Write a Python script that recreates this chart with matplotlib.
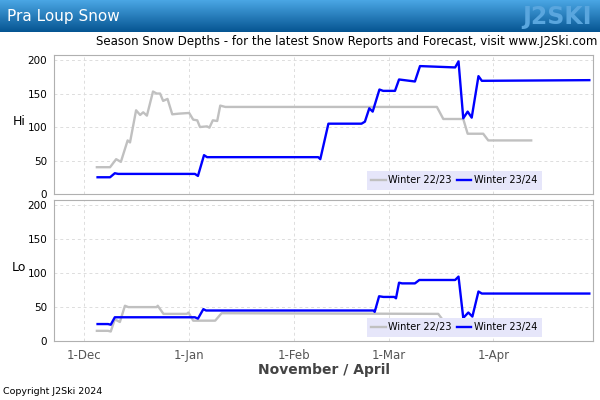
import matplotlib
matplotlib.use("Agg")
import matplotlib.pyplot as plt
import numpy as np

# day offsets counted from 1-Nov (non-leap calendar)
tick_days = [30, 61, 92, 120, 151]
tick_labels = ['1-Dec', '1-Jan', '1-Feb', '1-Mar', '1-Apr']

# Winter 22/23, top station
hi_2223_days = [33.7, 37.6, 39.4, 40.8, 42.8, 43.5, 45.3, 46.5, 47.4, 48.5, 50.3, 51.4, 52.4, 53.3,
                54.6, 56, 58, 61, 62.2, 63.4, 64.2, 66.3, 67, 68, 69.3, 70.2, 71.7, 134.3, 136.2,
                142.1, 143.4, 148, 149.5, 162.2]
hi_2223_vals = [40, 40, 52, 48, 80, 77, 125, 118, 122, 117, 153, 150, 150, 139,
                142, 119, 120, 121, 111, 110, 100, 101, 99, 110, 109, 132, 130, 130, 112,
                112, 90, 90, 80, 80]

# Winter 23/24, top station
hi_2324_days = [33.9, 37.6, 39, 40, 62.7, 63.6, 65.4, 66.3, 99.2, 99.8, 102.2, 112, 113, 114.3,
                115.3, 117.3, 118.4, 121.9, 123.1, 127.8, 129.3, 139.7, 140.7, 142.1, 143.4,
                144.6, 146.6, 147.6, 179.4]
hi_2324_vals = [25, 25, 31, 30, 30, 27, 58, 55, 55, 52, 105, 105, 108, 128,
                123, 156, 154, 154, 171, 168, 191, 189, 198, 113, 123,
                114, 176, 169, 170]

# Winter 22/23, bottom station
lo_2223_days = [33.7, 37, 37.8, 39, 40.5, 42, 43, 51.4, 51.7, 53.4, 60.3, 60.8, 62.2, 68.7, 70.6,
                134.7, 136.2, 142.1, 143.4, 148, 149.5, 162.2]
lo_2223_vals = [15, 15, 14, 32, 28, 52, 50, 50, 52, 40, 40, 42, 30, 30, 41,
                40, 30, 30, 25, 25, 20, 20]

# Winter 23/24, bottom station
lo_2324_days = [33.9, 37, 37.8, 39, 40, 62.7, 63.6, 65.2, 66, 115.5, 115.9, 117.2, 118.5, 121.7,
                122.2, 123.1, 124, 127.8, 129.1, 139.7, 140.7, 142.1, 143.6, 144.8, 146.6,
                147.6, 179.4]
lo_2324_vals = [25, 25, 24, 35, 35, 35, 33, 47, 45, 45, 43, 66, 65, 65,
                63, 86, 85, 85, 90, 90, 95, 34, 42, 36, 73,
                70, 70]

GREY = '#c0c0c0'
BLUE = '#0000ff'

fig = plt.figure(figsize=(6, 4), dpi=100)

# header bar with gradient
hdr = fig.add_axes([0, 1 - 32 / 400, 1, 32 / 400])
grad = np.linspace(0, 1, 64).reshape(-1, 1)
cmap = matplotlib.colors.LinearSegmentedColormap.from_list('hdr', ['#4aa6e4', '#065592'])
hdr.imshow(grad, aspect='auto', cmap=cmap, extent=[0, 1, 0, 1])
hdr.set_axis_off()
fig.text(7 / 600, 1 - 16 / 400, 'Pra Loup Snow', color='white', fontsize=11,
         va='center', ha='left')
fig.text(592 / 600, 1 - 17 / 400, 'J2SKI', color='#5aa6de', fontsize=17, fontweight='bold',
         va='center', ha='right', family='DejaVu Sans')

fig.text(597 / 600, 1 - 41 / 400,
         'Season Snow Depths - for the latest Snow Reports and Forecast, visit www.J2Ski.com',
         fontsize=8.45, ha='right', va='center', color='black')

ax_hi = fig.add_axes([54.3 / 600, 1 - 194 / 400, 538.4 / 600, 139.3 / 400])
ax_lo = fig.add_axes([54.3 / 600, 1 - 341 / 400, 538.4 / 600, 141 / 400])

panels = [
    (ax_hi, 'Hi', hi_2223_days, hi_2223_vals, hi_2324_days, hi_2324_vals),
    (ax_lo, 'Lo', lo_2223_days, lo_2223_vals, lo_2324_days, lo_2324_vals),
]

for ax, name, d1, v1, d2, v2 in panels:
    ax.plot(d1, v1, color=GREY, lw=1.7, label='Winter 22/23', solid_joinstyle='round')
    ax.plot(d2, v2, color=BLUE, lw=1.7, label='Winter 23/24', solid_joinstyle='round')
    ax.set_xlim(21.1, 180.4)
    ax.set_ylim(0, 208)
    ax.set_yticks([0, 50, 100, 150, 200])
    ax.set_xticks(tick_days)
    ax.grid(True, color='#dddddd', linestyle=(0, (3, 3)), linewidth=0.7)
    ax.set_axisbelow(True)
    for sp in ax.spines.values():
        sp.set_color('#b0b0b0')
    ax.tick_params(axis='both', length=0, labelsize=7.5, pad=4)
    ax.tick_params(axis='y', pad=5)
    bb = ax.get_position()
    fig.text(19 / 600, bb.y0 + bb.height * 0.52, name, fontsize=9, ha='center', va='center')
    leg = ax.legend(loc='lower right', bbox_to_anchor=(0.906, 0.03), ncol=2, fontsize=7,
                    frameon=True, handlelength=1.5, handletextpad=0.3, columnspacing=0.5,
                    borderpad=0.45, borderaxespad=0, fancybox=False)
    leg.get_frame().set_facecolor('#e6e6fa')
    leg.get_frame().set_edgecolor('none')
    leg.get_frame().set_alpha(1)

ax_hi.set_xticklabels([])
ax_lo.set_xticklabels(tick_labels, color='#555555', fontsize=8.5)
ax_lo.tick_params(axis='x', pad=6)

fig.text(323.5 / 600, 1 - 370 / 400, 'November / April', fontsize=10, fontweight='bold',
         color='#444444', ha='center', va='center')
fig.text(3 / 600, 1 - 392 / 400, 'Copyright J2Ski 2024', fontsize=6.8, ha='left', va='center')

fig.savefig('out.png', dpi=100)
